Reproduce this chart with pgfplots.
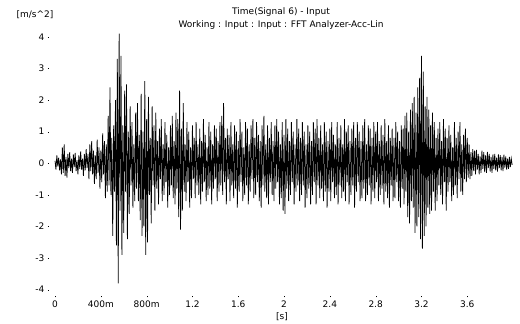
\documentclass[border=0pt]{standalone}
\usepackage{pgfplots}
\pgfplotsset{compat=1.18}
\usepackage{pgfplotstable}
\usepackage{fontspec}
\setmainfont{DejaVu Sans}
\pgfplotstableread[row sep=\\]{
y\\
0.08\\ -0.2\\ 0.25\\ -0.1\\ 0.18\\ -0.22\\ 0.12\\ -0.35\\ 0.5\\ -0.3\\
0.6\\ -0.4\\ 0.2\\ -0.45\\ 0.3\\ -0.15\\ 0.35\\ -0.25\\ 0.15\\ -0.3\\
0.28\\ -0.12\\ 0.33\\ -0.25\\ 0.1\\ -0.35\\ 0.25\\ -0.18\\ 0.38\\ -0.2\\
0.15\\ -0.4\\ 0.3\\ -0.22\\ 0.45\\ -0.15\\ 0.3\\ -0.5\\ 0.6\\ -0.25\\
0.7\\ -0.35\\ 0.4\\ -0.65\\ 0.25\\ -0.5\\ 0.75\\ -0.3\\ 0.5\\ -0.8\\
0.4\\ -0.6\\ 0.95\\ -0.35\\ 0.7\\ -1.1\\ 0.6\\ -0.9\\ 1.5\\ -0.7\\
2.4\\ -1.0\\ 0.8\\ -2.3\\ 1.2\\ -0.9\\ 2.0\\ -2.6\\ 3.3\\ -3.8\\
4.1\\ -1.5\\ 3.4\\ -2.9\\ 1.2\\ -2.2\\ 2.3\\ -0.9\\ 2.5\\ -2.4\\
1.0\\ -1.6\\ 1.8\\ -0.7\\ 1.3\\ -1.4\\ 0.6\\ -1.2\\ 1.6\\ -0.8\\
1.9\\ -1.2\\ 0.9\\ -1.8\\ 2.2\\ -2.3\\ 1.0\\ -2.0\\ 2.6\\ -2.9\\
1.4\\ -2.5\\ 2.1\\ -1.0\\ 0.8\\ -1.9\\ 1.8\\ -0.7\\ 1.2\\ -1.5\\
1.6\\ -0.8\\ 0.7\\ -1.3\\ 1.1\\ -0.5\\ 1.4\\ -1.2\\ 0.6\\ -1.0\\
1.3\\ -0.6\\ 0.9\\ -1.4\\ 0.5\\ -1.0\\ 1.2\\ -0.7\\ 1.5\\ -1.1\\
0.7\\ -1.3\\ 1.6\\ -0.8\\ 1.4\\ -1.7\\ 2.3\\ -2.1\\ 1.1\\ -1.5\\
1.9\\ -0.9\\ 0.6\\ -1.2\\ 1.3\\ -0.6\\ 1.0\\ -1.4\\ 0.5\\ -1.1\\
1.2\\ -0.5\\ 0.8\\ -1.1\\ 1.3\\ -0.7\\ 0.6\\ -1.0\\ 1.1\\ -1.3\\
0.7\\ -0.9\\ 1.4\\ -0.6\\ 0.9\\ -1.2\\ 0.5\\ -1.0\\ 1.3\\ -0.8\\
1.0\\ -1.3\\ 0.6\\ -0.8\\ 1.2\\ -0.5\\ 1.1\\ -1.2\\ 0.7\\ -0.9\\
1.3\\ -0.7\\ 1.5\\ -1.0\\ 1.9\\ -0.6\\ 0.8\\ -1.3\\ 1.1\\ -0.5\\
0.9\\ -1.2\\ 1.3\\ -0.7\\ 0.6\\ -1.1\\ 1.2\\ -0.8\\ 1.0\\ -1.4\\
0.7\\ -0.9\\ 1.4\\ -0.6\\ 1.0\\ -1.2\\ 0.5\\ -1.0\\ 1.3\\ -0.7\\
1.1\\ -1.3\\ 0.6\\ -0.9\\ 1.2\\ -0.5\\ 1.4\\ -1.1\\ 0.8\\ -1.0\\
1.3\\ -0.6\\ 0.9\\ -1.2\\ 0.7\\ -1.4\\ 1.2\\ -0.7\\ 1.5\\ -0.9\\
0.6\\ -1.1\\ 1.2\\ -1.3\\ 0.8\\ -0.6\\ 1.3\\ -1.0\\ 0.7\\ -1.2\\
1.2\\ -0.8\\ 1.4\\ -0.6\\ 1.0\\ -1.3\\ 0.6\\ -1.1\\ 1.3\\ -1.5\\
0.9\\ -1.6\\ 1.4\\ -0.8\\ 1.1\\ -1.2\\ 0.7\\ -1.0\\ 1.3\\ -0.6\\
1.0\\ -1.3\\ 0.6\\ -0.9\\ 1.4\\ -0.7\\ 1.1\\ -1.2\\ 0.8\\ -1.0\\
1.3\\ -0.7\\ 1.0\\ -1.4\\ 0.6\\ -1.1\\ 1.2\\ -0.8\\ 1.0\\ -1.3\\
0.7\\ -1.0\\ 1.3\\ -0.6\\ 1.1\\ -1.3\\ 1.4\\ -0.7\\ 0.8\\ -1.1\\
1.2\\ -0.8\\ 0.6\\ -1.2\\ 1.3\\ -0.9\\ 1.0\\ -1.4\\ 0.7\\ -0.9\\
1.1\\ -1.2\\ 1.3\\ -0.6\\ 0.9\\ -1.1\\ 0.6\\ -1.0\\ 1.3\\ -1.3\\
0.8\\ -0.7\\ 1.2\\ -1.1\\ 0.6\\ -0.9\\ 1.4\\ -1.2\\ 1.0\\ -0.6\\
1.2\\ -1.3\\ 0.7\\ -1.0\\ 1.1\\ -0.7\\ 1.3\\ -1.4\\ 0.8\\ -0.9\\
1.3\\ -0.6\\ 1.0\\ -1.2\\ 0.7\\ -1.1\\ 1.2\\ -0.8\\ 1.4\\ -1.2\\
0.6\\ -1.0\\ 1.2\\ -0.7\\ 1.1\\ -1.3\\ 0.8\\ -0.9\\ 1.3\\ -1.1\\
1.0\\ -0.6\\ 1.3\\ -1.2\\ 0.7\\ -1.0\\ 1.2\\ -0.8\\ 0.9\\ -1.3\\
1.4\\ -0.9\\ 0.7\\ -1.1\\ 1.2\\ -1.4\\ 0.8\\ -0.7\\ 1.1\\ -1.2\\
0.8\\ -1.1\\ 1.3\\ -0.6\\ 1.0\\ -1.2\\ 0.7\\ -1.4\\ 1.2\\ -0.8\\
1.1\\ -1.3\\ 1.5\\ -0.9\\ 1.6\\ -1.7\\ 1.0\\ -1.9\\ 1.7\\ -1.2\\
1.9\\ -1.4\\ 2.1\\ -2.2\\ 1.6\\ -2.0\\ 2.4\\ -1.7\\ 2.7\\ -2.4\\
3.4\\ -2.7\\ 2.9\\ -2.3\\ 1.8\\ -2.0\\ 2.1\\ -1.4\\ 1.7\\ -1.6\\
1.2\\ -1.5\\ 1.6\\ -0.9\\ 1.3\\ -1.5\\ 0.8\\ -1.2\\ 1.1\\ -0.7\\
1.3\\ -1.0\\ 0.7\\ -1.3\\ 1.4\\ -0.6\\ 1.1\\ -1.5\\ 0.8\\ -0.9\\
1.2\\ -0.6\\ 0.9\\ -1.2\\ 0.5\\ -1.0\\ 1.3\\ -0.7\\ 0.8\\ -1.1\\
1.0\\ -0.5\\ 1.3\\ -0.9\\ 0.6\\ -1.0\\ 0.9\\ -0.5\\ 1.1\\ -0.6\\
0.8\\ -0.45\\ 0.6\\ -0.5\\ 0.35\\ -0.4\\ 0.45\\ -0.25\\ 0.4\\ -0.35\\
0.42\\ -0.2\\ 0.3\\ -0.35\\ 0.22\\ -0.3\\ 0.4\\ -0.18\\ 0.35\\ -0.28\\
0.25\\ -0.3\\ 0.36\\ -0.15\\ 0.3\\ -0.26\\ 0.2\\ -0.3\\ 0.28\\ -0.18\\
0.3\\ -0.22\\ 0.18\\ -0.26\\ 0.28\\ -0.15\\ 0.26\\ -0.22\\ 0.2\\ -0.25\\
0.27\\ -0.14\\ 0.22\\ -0.2\\ 0.15\\ -0.18\\ 0.2\\ -0.12\\ 0.15\\ -0.05\\
}\sig
\begin{document}
\begin{tikzpicture}[x=1pt,y=1pt]
\useasboundingbox (0,0) rectangle (520,324);
\begin{axis}[
  at={(49.3pt,28pt)}, anchor=south west,
  scale only axis, width=469.5pt, height=268.6pt,
  xmin=-0.05, xmax=4.05, ymin=-4.2, ymax=4.3,
  axis line style={draw=none},
  xtick pos=bottom, ytick pos=left,
  xtick={0,0.4,0.8,1.2,1.6,2,2.4,2.8,3.2,3.6},
  xticklabels={0,400m,800m,1.2,1.6,2,2.4,2.8,3.2,3.6},
  ytick={-4,-3,-2,-1,0,1,2,3,4},
  yticklabel style={/pgf/number format/assume math mode=true},
  tick label style={font=\fontsize{9}{10}\selectfont},
  major tick length=1.5pt, tick style={black},
  tick align=outside,
  clip=false,
]
\addplot[black, line width=0.75pt, mark=none] table[x expr=\coordindex*0.008, y=y] {\sig};
\end{axis}
\node[font=\fontsize{9}{10}\selectfont] at (281,312) {Time(Signal 6) - Input};
\node[font=\fontsize{9}{10}\selectfont] at (281,299) {Working : Input : Input : FFT Analyzer-Acc-Lin};
\node[font=\fontsize{9}{10}\selectfont] at (35,309) {[m/s\textasciicircum 2]};
\node[font=\fontsize{9}{10}\selectfont] at (282,7) {[s]};
\end{tikzpicture}
\end{document}
